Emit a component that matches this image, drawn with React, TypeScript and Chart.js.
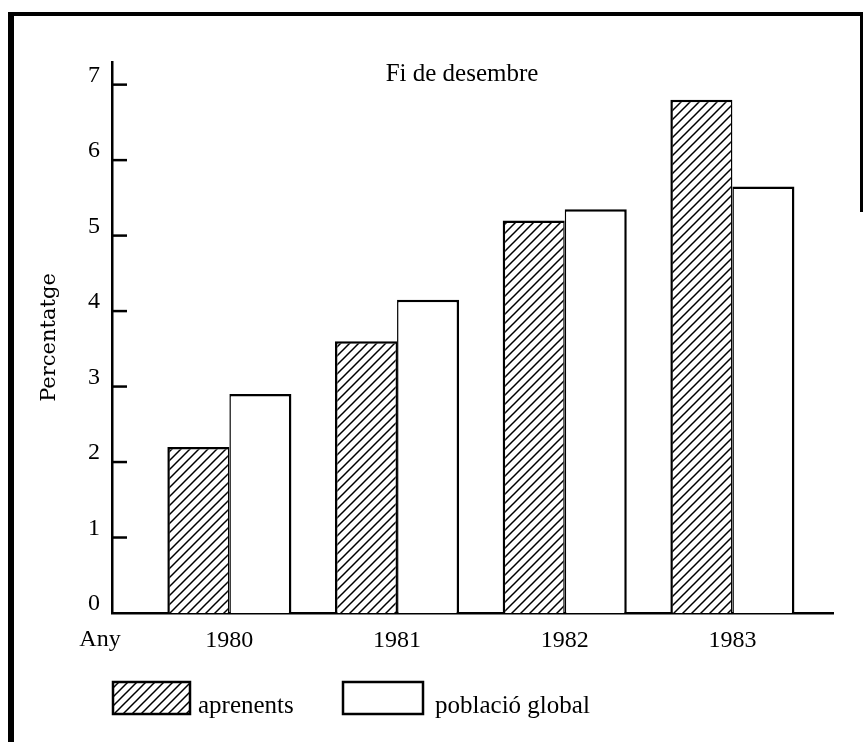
import React, { useEffect, useRef } from 'react';
import { Chart, registerables } from 'chart.js';

Chart.register(...registerables);

// ---- data ----
const years = ['1980', '1981', '1982', '1983'];
const aprenents = [2.2, 3.6, 5.2, 6.8];
const poblacioGlobal = [2.9, 4.15, 5.35, 5.65];
const yTicks = [0, 1, 2, 3, 4, 5, 6, 7];
const seriesLabels = ['aprenents', 'població global'];
const chartTitle = 'Fi de desembre';
const yTitle = 'Percentatge';
const xTitle = 'Any';

const SERIF = '"Liberation Serif", "Times New Roman", serif';
const YFONT = '"DejaVu Serif", "Liberation Serif", serif';

function makeHatch(ctx: CanvasRenderingContext2D): CanvasPattern | string {
  const s = 9;
  const pc = document.createElement('canvas');
  pc.width = s;
  pc.height = s;
  const c = pc.getContext('2d');
  if (!c) return '#fff';
  c.fillStyle = '#fff';
  c.fillRect(0, 0, s, s);
  c.strokeStyle = '#000';
  c.lineWidth = 1.5;
  c.beginPath();
  c.moveTo(-1, s + 1);
  c.lineTo(s + 1, -1);
  c.moveTo(-2, 2);
  c.lineTo(2, -2);
  c.moveTo(s - 2, s + 2);
  c.lineTo(s + 2, s - 2);
  c.stroke();
  return ctx.createPattern(pc, 'repeat') || '#fff';
}

export default function App() {
  const ref = useRef<HTMLCanvasElement>(null);

  useEffect(() => {
    const canvas = ref.current;
    if (!canvas) return;
    const ctx = canvas.getContext('2d');
    if (!ctx) return;
    const hatch = makeHatch(ctx);

    const decorPlugin = {
      id: 'decor',
      beforeDraw(chart: any) {
        const c = chart.ctx;
        c.save();
        c.fillStyle = '#fff';
        c.fillRect(0, 0, chart.width, chart.height);
        c.fillStyle = '#000';
        // frame: left, top, partial right
        c.fillRect(8, 12, 6, chart.height - 12);
        c.fillRect(8, 12, 855, 4);
        c.fillRect(860, 12, 3, 200);
        c.restore();
      },
      afterDraw(chart: any) {
        const c = chart.ctx;
        const area = chart.chartArea;
        const yScale = chart.scales.y;
        c.save();
        // inward tick marks
        c.strokeStyle = '#000';
        c.lineWidth = 2.5;
        yTicks.forEach((v) => {
          if (v === 0) return;
          const y = yScale.getPixelForValue(v);
          c.beginPath();
          c.moveTo(area.left, y);
          c.lineTo(area.left + 15, y);
          c.stroke();
        });
        // title inside plot
        c.fillStyle = '#000';
        c.font = `25px ${SERIF}`;
        c.textAlign = 'center';
        c.textBaseline = 'middle';
        c.fillText(chartTitle, area.left + 350, area.top + 12);
        // "Any"
        c.font = `24px ${SERIF}`;
        c.fillText(xTitle, 100, 640);
        // legend
        const boxes = [
          { x: 113, w: 77, tx: 198 },
          { x: 343, w: 80, tx: 435 },
        ];
        chart.data.datasets.forEach((ds: any, i: number) => {
          const b = boxes[i];
          c.fillStyle = ds.backgroundColor;
          c.fillRect(b.x, 682, b.w, 32);
          c.strokeStyle = '#000';
          c.lineWidth = 2.5;
          c.strokeRect(b.x, 682, b.w, 32);
          c.fillStyle = '#000';
          c.font = `25px ${SERIF}`;
          c.textAlign = 'left';
          c.textBaseline = 'middle';
          c.fillText(ds.label, b.tx, 706);
        });
        c.restore();
      },
    };

    const chart = new Chart(ctx, {
      type: 'bar',
      data: {
        datasets: [
          {
            label: seriesLabels[0],
            data: years.map((_, i) => ({ x: i, y: aprenents[i] })),
            backgroundColor: hatch as any,
            borderColor: '#000',
            borderWidth: { top: 2.5, left: 2.5, right: 1.5, bottom: 0 },
            borderSkipped: 'start',
            categoryPercentage: 0.74,
            barPercentage: 1,
          },
          {
            label: seriesLabels[1],
            data: years.map((_, i) => ({ x: i, y: poblacioGlobal[i] })),
            backgroundColor: '#fff',
            borderColor: '#000',
            borderWidth: { top: 2.5, left: 1.5, right: 2.5, bottom: 0 },
            borderSkipped: 'start',
            categoryPercentage: 0.74,
            barPercentage: 1,
          },
        ],
      } as any,
      options: {
        animation: false,
        responsive: true,
        maintainAspectRatio: false,
        layout: { padding: { top: 62, right: 30, bottom: 0, left: 0 } },
        plugins: {
          legend: { display: false },
          tooltip: { enabled: false },
          title: { display: false },
        },
        scales: {
          x: {
            type: 'linear',
            min: -0.7,
            max: 3.6,
            offset: false,
            grid: { display: false, drawTicks: false },
            border: { display: true, color: '#000', width: 2.5 },
            ticks: {
              padding: 13,
              color: '#000',
              font: { family: SERIF, size: 24 },
              autoSkip: false,
              maxRotation: 0,
              callback: (v: any) => years[v as number] ?? '',
            },
            afterBuildTicks: (s: any) => {
              s.ticks = years.map((_, i) => ({ value: i }));
            },
            afterFit: (s: any) => {
              s.height = 129;
            },
          },
          y: {
            min: 0,
            max: 7.3,
            grid: { display: false, drawTicks: false },
            border: { display: true, color: '#000', width: 2.5 },
            ticks: {
              padding: 12,
              labelOffset: -9,
              color: '#000',
              font: { family: SERIF, size: 24 },
              callback: (v: any) => String(v),
            },
            afterBuildTicks: (s: any) => {
              s.ticks = yTicks.map((v) => ({ value: v }));
            },
            title: {
              display: true,
              text: yTitle,
              color: '#000',
              font: { family: YFONT, size: 21 },
              padding: { top: 37, bottom: 0 },
            },
            afterFit: (s: any) => {
              s.width = 112;
            },
          },
        },
      } as any,
      plugins: [decorPlugin],
    });

    return () => chart.destroy();
  }, []);

  return (
    <div style={{ position: 'absolute', left: 0, top: 0, width: 863, height: 742, background: '#fff' }}>
      <canvas ref={ref} />
    </div>
  );
}
